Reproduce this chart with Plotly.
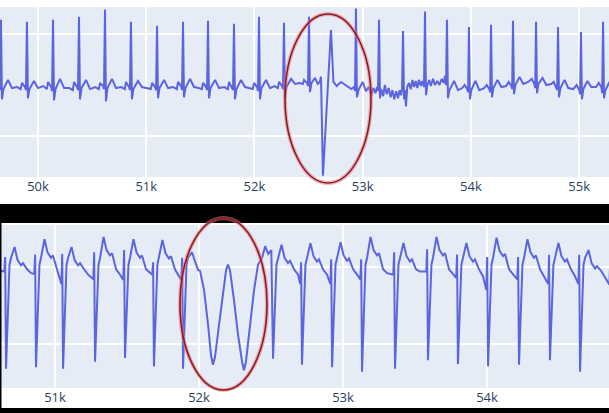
import plotly.graph_objects as go

# ---------------- data: upper ECG strip (sample index, amplitude) ----------------
top_x = [
    49590,
    49612, 49640, 49649, 49658, 49667, 49681, 49723, 49760, 49808, 49840,
    49852, 49880, 49889, 49898, 49907, 49921, 49963, 50000, 50048, 50082,
    50093, 50121, 50130, 50139, 50148, 50162, 50204, 50241, 50289, 50322,
    50333, 50361, 50370, 50379, 50388, 50402, 50444, 50481, 50529, 50562,
    50573, 50601, 50610, 50619, 50628, 50642, 50684, 50721, 50769, 50802,
    50813, 50841, 50850, 50859, 50868, 50882, 50924, 50961, 51009, 51043,
    51054, 51082, 51091, 51100, 51109, 51123, 51165, 51202, 51250, 51283,
    51294, 51322, 51331, 51340, 51349, 51363, 51405, 51442, 51485, 51514,
    51525, 51553, 51562, 51571, 51580, 51594, 51636, 51673, 51721, 51754,
    51765, 51793, 51802, 51811, 51820, 51834, 51876, 51913, 51955, 51985,
    51996, 52024, 52033, 52042, 52051, 52065, 52107, 52144, 52186, 52216,
    52227, 52255, 52264, 52273, 52282, 52296, 52338, 52375, 52417, 52447,
    52458, 52486, 52495, 52504, 52513, 52527, 52560, 52585, 52603, 52615,
    52633, 52707, 52730, 52760, 52800, 52850, 52895, 52920, 52929,
    52938, 52947, 52961, 53000, 53030, 53055, 53080, 53100, 53118, 53133, 53142,
    53151, 53160, 53172, 53190, 53205, 53222, 53240, 53258, 53275, 53292, 53310,
    53327, 53342, 53355, 53364,
    53373, 53382, 53390, 53400, 53412, 53428, 53445, 53460, 53475, 53490, 53505,
    53520, 53538, 53552, 53567,
    53576, 53585, 53598, 53615, 53630, 53650, 53668, 53690, 53710, 53730, 53750,
    53760, 53770,
    53779, 53788, 53802, 53844, 53881, 53920,
    53942, 53966, 53974, 53982, 53991, 54004, 54042, 54077, 54122,
    54146, 54170, 54178, 54186, 54195, 54208, 54246, 54281, 54326,
    54349, 54373, 54381, 54389, 54398, 54411, 54449, 54484, 54529,
    54562, 54586, 54594, 54602, 54611, 54624, 54662, 54697, 54742,
    54765, 54789, 54797, 54805, 54814, 54827, 54865, 54900, 54945,
    54977, 55001, 55009, 55017, 55026, 55039, 55077, 55112, 55157,
    55181, 55205, 55213, 55221, 55230, 55243, 55281, 55320,
]
top_y = [
    -0.02,
    0.02, -0.02, -0.05, 0.64, -0.14, -0.04, 0.05, -0.03, -0.02, -0.04,
    0.02, -0.02, -0.05, 0.62, -0.13, -0.04, 0.04, -0.03, -0.01, -0.04,
    0.03, -0.02, -0.06, 0.64, -0.15, -0.04, 0.06, -0.03, -0.03, -0.05,
    0.03, -0.02, -0.05, 0.67, -0.14, -0.03, 0.05, -0.04, -0.02, -0.04,
    0.02, -0.01, -0.04, 0.74, -0.16, -0.03, 0.06, -0.03, -0.02, -0.04,
    0.03, -0.02, -0.05, 0.62, -0.14, -0.04, 0.04, -0.02, -0.03, -0.04,
    0.02, -0.02, -0.05, 0.58, -0.13, -0.03, 0.05, -0.03, -0.02, -0.04,
    0.03, -0.01, -0.05, 0.62, -0.12, -0.03, 0.06, -0.02, -0.03, -0.04,
    0.02, -0.02, -0.05, 0.63, -0.13, -0.03, 0.05, -0.03, -0.02, -0.04,
    0.03, -0.02, -0.05, 0.60, -0.14, -0.04, 0.05, -0.02, -0.03, -0.04,
    0.02, -0.02, -0.06, 0.67, -0.14, -0.03, 0.05, -0.03, -0.01, -0.03,
    0.03, -0.01, -0.04, 0.61, -0.13, -0.02, 0.06, 0.01, 0.02, 0.01,
    0.05, 0.02, -0.01, 0.67, -0.07, 0.02, 0.07, 0.01, 0.03, 0.08,
    -0.89, 0.54, 0.03, -0.01, 0.03, -0.01, -0.04, -0.02, -0.06,
    0.75, -0.12, -0.05, 0.03, -0.06, -0.02, -0.10, -0.03, -0.08, -0.02, -0.06,
    0.64, -0.13, -0.04, -0.11, 0.00, -0.09, -0.03, -0.12, -0.05, -0.14, -0.06,
    -0.13, -0.05, -0.10, -0.04,
    0.53, -0.14, -0.05, -0.21, -0.02, 0.02, -0.04, 0.05, -0.02, 0.04, -0.03,
    0.05, -0.01, 0.04, -0.02,
    0.72, -0.10, 0.00, 0.05, -0.01, 0.06, 0.00, 0.04, 0.00, 0.06, 0.02,
    0.09, 0.00,
    0.64, -0.13, -0.05, 0.04, -0.05, -0.03,
    0.00, -0.04, -0.07, 0.57, -0.14, -0.05, 0.04, -0.05, -0.03,
    0.00, -0.04, -0.07, 0.59, -0.12, -0.03, 0.05, -0.02, -0.01,
    0.03, -0.01, -0.04, 0.63, -0.09, 0.00, 0.08, 0.01, 0.03,
    0.06, 0.01, -0.03, 0.62, -0.08, 0.01, 0.07, 0.00, 0.01,
    0.03, -0.02, -0.05, 0.57, -0.12, -0.03, 0.05, -0.03, -0.04,
    0.00, -0.05, -0.09, 0.52, -0.14, -0.04, 0.04, -0.02, -0.02,
    0.02, -0.02, -0.08, 0.62, -0.13, -0.05, 0.03, -0.03,
]

# ---------------- data: lower ECG strip ----------------
bot_x = [
    50600, 50620,
    50648, 50654, 50660, 50684, 50695, 50719, 50740, 50764, 50778, 50806, 50834,
    50856, 50862, 50868, 50892, 50903, 50927, 50948, 50972, 50986, 51014, 51030,
    51044, 51050, 51056, 51080, 51091, 51115, 51136, 51160, 51174, 51202, 51230,
    51266, 51272, 51278, 51302, 51313, 51337, 51358, 51382, 51396, 51424, 51452,
    51474, 51480, 51486, 51510, 51521, 51545, 51566, 51590, 51604, 51632, 51660,
    51675, 51681, 51687, 51711, 51722, 51746, 51767, 51791, 51805, 51833, 51861,
    51877, 51883, 51889, 51913, 51924, 51951, 51972, 51993, 52007,
    52035, 52063, 52083, 52097, 52111, 52139, 52167, 52188, 52201, 52215,
    52243, 52271, 52299, 52312, 52326, 52354, 52382, 52410, 52438, 52459, 52480, 52502,
    52514, 52538, 52549, 52573, 52594, 52618, 52632, 52660, 52688,
    52703, 52709, 52715, 52739, 52750, 52774, 52795, 52819, 52833, 52861, 52889,
    52912, 52918, 52924, 52948, 52959, 52983, 53004, 53028, 53042, 53070, 53098,
    53120, 53126, 53132, 53156, 53167, 53191, 53212, 53236, 53250, 53278, 53306,
    53349, 53355, 53361, 53385, 53396, 53420, 53441, 53465, 53479, 53507, 53535,
    53578, 53584, 53590, 53614, 53625, 53649, 53670, 53694, 53708, 53736, 53764,
    53786, 53792, 53798, 53822, 53833, 53857, 53878, 53902, 53916, 53944, 53972,
    53995, 54001, 54007, 54031, 54042, 54066, 54087, 54111, 54125, 54153, 54181,
    54210, 54216, 54222, 54246, 54257, 54281, 54302, 54326, 54340, 54368, 54396,
    54425, 54431, 54437, 54461, 54472, 54496, 54517, 54541, 54555, 54583, 54611,
    54634, 54640, 54646, 54670, 54681, 54705, 54726, 54750, 54764, 54792, 54820,
    54850, 54856, 54862, 54886,
]
bot_y = [
    -0.04, -0.05,
    -0.06, 0.13, -1.32, 0.03, 0.12, 0.26, 0.09, 0.02, 0.05, -0.03, -0.08,
    -0.09, 0.16, -1.30, 0.03, 0.12, 0.36, 0.19, 0.12, 0.15, -0.03, -0.12,
    -0.22, 0.17, -1.32, 0.03, 0.12, 0.26, 0.09, 0.02, 0.05, -0.03, -0.10,
    -0.16, 0.19, -1.23, 0.03, 0.12, 0.39, 0.22, 0.15, 0.18, -0.03, -0.10,
    -0.17, 0.22, -1.18, 0.03, 0.12, 0.36, 0.19, 0.12, 0.15, -0.03, -0.08,
    -0.10, 0.06, -1.29, 0.03, 0.12, 0.35, 0.18, 0.11, 0.14, -0.03, -0.12,
    -0.17, 0.12, -1.32, 0.03, 0.12, 0.19, 0.08, -0.04, -0.05,
    -0.30, -0.75, -1.14, -1.27, -1.17, -0.75, -0.30, -0.04, 0.03, -0.04,
    -0.43, -0.88, -1.23, -1.34, -1.23, -0.75, -0.30, 0.03, 0.12, 0.27, 0.17, 0.22,
    -1.19, 0.03, 0.12, 0.29, 0.12, 0.05, 0.08, -0.03, -0.10,
    -0.22, 0.06, -1.27, 0.03, 0.12, 0.31, 0.14, 0.07, 0.10, -0.03, -0.10,
    -0.22, 0.10, -1.30, 0.03, 0.12, 0.32, 0.15, 0.08, 0.11, -0.03, -0.10,
    -0.16, 0.10, -1.36, 0.03, 0.12, 0.39, 0.22, 0.15, 0.18, -0.03, -0.08,
    -0.10, 0.19, -1.32, 0.03, 0.12, 0.31, 0.14, 0.07, 0.10, -0.03, -0.06,
    -0.06, 0.23, -1.21, 0.03, 0.12, 0.39, 0.22, 0.15, 0.18, -0.03, -0.10,
    -0.14, 0.16, -1.26, 0.03, 0.12, 0.31, 0.14, 0.07, 0.10, -0.03, -0.12,
    -0.30, 0.13, -1.29, 0.03, 0.12, 0.38, 0.21, 0.14, 0.17, -0.03, -0.10,
    -0.16, 0.13, -1.27, 0.03, 0.12, 0.36, 0.19, 0.12, 0.15, -0.03, -0.12,
    -0.22, 0.16, -1.21, 0.03, 0.12, 0.31, 0.14, 0.07, 0.10, -0.03, -0.12,
    -0.22, 0.16, -1.36, 0.03, 0.12, 0.22, 0.05, -0.02, 0.01, -0.05, -0.14,
    -0.23, 0.12, -1.30, 0.03,
]

top_xrange = [49649, 55276]
bot_xrange = [50618, 54847]
top_yrange = [-0.902, 0.765]
bot_yrange = [-1.571, 0.545]
top_grid = [-0.5, 0.5]
bot_grid = [-1, 0]

LINE = "#5c65dd"

fig = go.Figure()
fig.add_trace(go.Scatter(x=top_x, y=top_y, mode="lines",
                         line=dict(color=LINE, width=2), xaxis="x", yaxis="y",
                         hoverinfo="skip"))
fig.add_trace(go.Scatter(x=bot_x, y=bot_y, mode="lines",
                         line=dict(color=LINE, width=2), xaxis="x2", yaxis="y2",
                         hoverinfo="skip"))

W, H = 609, 413
axis_common = dict(showline=False, zeroline=False, ticks="", gridcolor="white",
                   gridwidth=1.6, tickfont=dict(size=13, color="#2a3f5f"))

fig.update_layout(
    width=W, height=H,
    margin=dict(l=0, r=0, t=0, b=0),
    paper_bgcolor="white",
    plot_bgcolor="#E5ECF6",
    showlegend=False,
    font=dict(family='"Open Sans", verdana, arial, sans-serif'),
    xaxis=dict(domain=[0, 1], range=top_xrange, anchor="y",
               tick0=0, dtick=1000, **axis_common),
    yaxis=dict(domain=[1 - 177 / H, 1 - 7 / H], range=top_yrange, anchor="x",
               tickvals=top_grid, showticklabels=False, **axis_common),
    xaxis2=dict(domain=[0, 1], range=bot_xrange, anchor="y2",
                tick0=0, dtick=1000, **axis_common),
    yaxis2=dict(domain=[1 - 388 / H, 1 - 225 / H], range=bot_yrange, anchor="x2",
                tickvals=bot_grid, showticklabels=False, **axis_common),
)

# black separators of the stacked screenshots
fig.add_shape(type="rect", xref="paper", yref="paper", x0=0, x1=1,
              y0=1 - 223 / H, y1=1 - 204 / H, fillcolor="black", line_width=0, layer="above")
fig.add_shape(type="rect", xref="paper", yref="paper", x0=0, x1=1,
              y0=0, y1=5 / H, fillcolor="black", line_width=0, layer="above")
fig.add_shape(type="rect", xref="paper", yref="paper", x0=0, x1=1.5 / W,
              y0=0, y1=1 - 223 / H, fillcolor="black", line_width=0, layer="above")

# red hand-drawn highlight ellipses
for (x0, x1, y0, y1) in [(285, 371, 14, 183), (180, 267, 218, 390)]:
    for col, wd in [("rgba(235,120,130,0.55)", 4), ("#8e1b24", 1.6)]:
        fig.add_shape(type="circle", xref="paper", yref="paper",
                      x0=x0 / W, x1=x1 / W, y0=1 - y1 / H, y1=1 - y0 / H,
                      line=dict(color=col, width=wd), layer="above")

fig.write_html("out.html", config={"displayModeBar": False},
               post_script="document.body.style.margin='0';")
